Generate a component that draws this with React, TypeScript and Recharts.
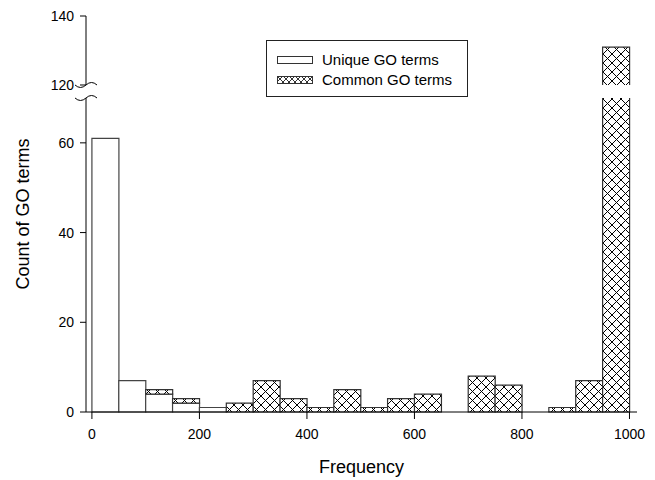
import { BarChart, Bar, XAxis, YAxis, Legend, ReferenceLine, ReferenceArea, ReferenceDot } from 'recharts';

const FONT = '"Liberation Sans", Arial, sans-serif';

// histogram bins of width 50 (left edge of each bin)
const binStarts = [0, 50, 100, 150, 200, 250, 300, 350, 400, 450, 500, 550, 600, 650, 700, 750, 800, 850, 900, 950];
const uniqueCounts = [61, 7, 4, 2, 1, 0, 0, 0, 0, 0, 0, 0, 0, 0, 0, 0, 0, 0, 0, 0];
const commonCounts = [0, 0, 1, 1, 0, 2, 7, 3, 1, 5, 1, 3, 4, 0, 8, 6, 0, 1, 7, 131];
const xTicks = [0, 200, 400, 600, 800, 1000];
const yTickLabels = [0, 20, 40, 60, 120, 140];

// broken y axis: 0..70 linear, then a gap, then 120..140 squeezed on top
const BREAK_LOW = 70;
const BREAK_HIGH = 120;
const GAP = 2.9;
const UPPER_SCALE = 0.769;
const toAxis = (v: number) => (v <= BREAK_LOW ? v : BREAK_LOW + GAP + (v - BREAK_HIGH) * UPPER_SCALE);
const Y_TOP = toAxis(140);
const X_MIN = -11;
const X_MAX = 1014;

const rows = binStarts.map((s, i) => ({
  mid: s + 25,
  unique: uniqueCounts[i],
  common: toAxis(uniqueCounts[i] + commonCounts[i]) - uniqueCounts[i],
}));

const Tilde = (props: any) => {
  const { cx, cy } = props;
  if (cx == null || cy == null) return null;
  return (
    <path
      d={`M${cx - 11},${cy} Q${cx - 5.5},${cy + 5} ${cx},${cy} Q${cx + 5.5},${cy - 5} ${cx + 11},${cy}`}
      fill="none"
      stroke="#000"
      strokeWidth={1}
    />
  );
};

function HatchSwatch() {
  return (
    <svg width={36} height={8} style={{ display: 'block' }}>
      <defs>
        <pattern id="xhatch-legend" width="6" height="6" patternUnits="userSpaceOnUse">
          <rect width="6" height="6" fill="#fff" />
          <path d="M0,0 L6,6 M6,0 L0,6" stroke="#000" strokeWidth="0.8" />
        </pattern>
      </defs>
      <rect x={0.5} y={0.5} width={35} height={7} fill="url(#xhatch-legend)" stroke="#333" strokeWidth={1} />
    </svg>
  );
}

function LegendBox() {
  const row = { display: 'flex', alignItems: 'center', height: 20 } as const;
  const label = { marginLeft: 9, fontSize: 15, color: '#000', fontFamily: FONT, lineHeight: '20px' } as const;
  return (
    <div
      style={{
        width: 202,
        height: 57,
        boxSizing: 'border-box',
        border: '1px solid #222',
        background: '#fff',
        paddingTop: 9,
        paddingLeft: 10,
      }}
    >
      <div style={row}>
        <svg width={36} height={8} style={{ display: 'block' }}>
          <rect x={0.5} y={0.5} width={35} height={7} fill="#fff" stroke="#333" strokeWidth={1} />
        </svg>
        <span style={label}>Unique GO terms</span>
      </div>
      <div style={row}>
        <HatchSwatch />
        <span style={label}>Common GO terms</span>
      </div>
    </div>
  );
}

export default function App() {
  return (
    <div style={{ position: 'absolute', left: 0, top: 0, background: '#fff' }}>
      <BarChart
        width={655}
        height={480}
        data={rows}
        margin={{ top: 16, right: 18, bottom: 8, left: 0 }}
        barCategoryGap={0}
        barGap={0}
      >
        <defs>
          <pattern id="xhatch" width="9" height="9" patternUnits="userSpaceOnUse">
            <rect width="9" height="9" fill="#fff" />
            <path d="M0,0 L9,9 M9,0 L0,9" stroke="#000" strokeWidth="1" />
          </pattern>
        </defs>
        <XAxis
          dataKey="mid"
          type="number"
          domain={[X_MIN, X_MAX]}
          ticks={xTicks}
          height={60}
          axisLine={{ stroke: '#000' }}
          tickLine={{ stroke: '#000' }}
          tickSize={7}
          tickMargin={10}
          tick={{ fill: '#000', fontSize: 14, fontFamily: FONT }}
          label={{
            content: (p: any) => {
              const vb = p.viewBox;
              return (
                <text x={vb.x + vb.width / 2} y={473} textAnchor="middle" fontSize={18} fontFamily={FONT} fill="#000">
                  Frequency
                </text>
              );
            },
          }}
        />
        <YAxis
          type="number"
          domain={[0, Y_TOP]}
          ticks={yTickLabels.map(toAxis)}
          tickFormatter={(_v: number, i: number) => String(yTickLabels[i])}
          width={86}
          axisLine={false}
          tickLine={{ stroke: '#000' }}
          tickSize={6}
          tickMargin={6}
          tick={{ fill: '#000', fontSize: 14, fontFamily: FONT }}
          label={{
            content: (p: any) => {
              const vb = p.viewBox;
              const cx = 23;
              const cy = vb.y + vb.height / 2;
              return (
                <text
                  x={cx}
                  y={cy}
                  transform={`rotate(-90, ${cx}, ${cy})`}
                  textAnchor="middle"
                  dominantBaseline="central"
                  fontSize={18}
                  fontFamily={FONT}
                  fill="#000"
                >
                  Count of GO terms
                </text>
              );
            },
          }}
        />
        <Legend verticalAlign="middle" layout="horizontal" content={() => <LegendBox />} wrapperStyle={{ left: 266, top: 40, width: 202, height: 57 }} />
        <Bar dataKey="unique" stackId="a" fill="#fff" stroke="#444" strokeWidth={1.2} isAnimationActive={false} />
        <Bar dataKey="common" stackId="a" fill="url(#xhatch)" stroke="#333" strokeWidth={1.2} isAnimationActive={false} />
        <ReferenceArea x1={930} x2={1010} y1={BREAK_LOW} y2={BREAK_LOW + GAP} fill="#fff" fillOpacity={1} stroke="none" ifOverflow="visible" zIndex={2000} />
        <ReferenceLine segment={[{ x: X_MIN, y: 0 }, { x: X_MIN, y: BREAK_LOW }]} stroke="#000" ifOverflow="visible" />
        <ReferenceLine segment={[{ x: X_MIN, y: BREAK_LOW + GAP }, { x: X_MIN, y: Y_TOP }]} stroke="#000" ifOverflow="visible" />
        <ReferenceDot x={X_MIN} y={BREAK_LOW} shape={Tilde} ifOverflow="visible" />
        <ReferenceDot x={X_MIN} y={BREAK_LOW + GAP} shape={Tilde} ifOverflow="visible" />
      </BarChart>
    </div>
  );
}
